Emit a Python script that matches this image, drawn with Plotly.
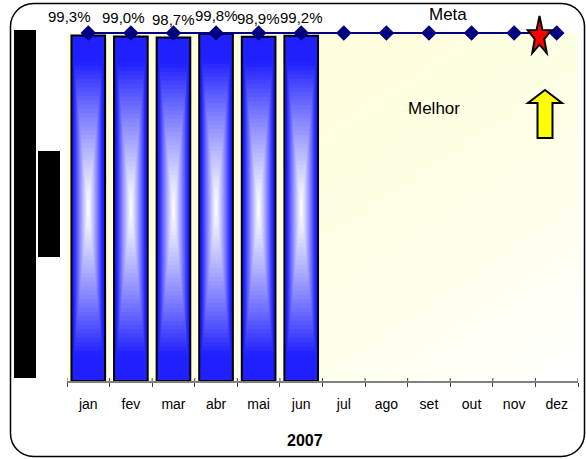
import base64
import math
import struct
import zlib

import plotly.graph_objects as go

# ---- data -------------------------------------------------------------
months = ["jan", "fev", "mar", "abr", "mai", "jun",
          "jul", "ago", "set", "out", "nov", "dez"]
realizado = [99.3, 99.0, 98.7, 99.8, 98.9, 99.2]          # % jan..jun 2007
meta = [100, 100, 100, 100, 100, 100, 100, 100, 100, 100, 100, 100]
year_label = "2007"

# ---- page geometry (pixels) -----------------------------------------
W, H = 586, 459
ML, MR, MT, MB = 67, 8, 10, 78
PW, PH = W - ML - MR, H - MT - MB
Y_TOP_PX = 33                     # pixel row of the 100 % level
PX_PER_UNIT = (H - MB - Y_TOP_PX) / 100.0
Y_MAX = PH / PX_PER_UNIT
X_PX_PER_CAT = PW / 12.0


def paper_x(px):
    return (px - ML) / PW


def paper_y(py):
    return (H - MB - py) / PH


def data_x(px):
    return (px - ML) / X_PX_PER_CAT - 0.5


def data_y(py):
    return (H - MB - py) / PX_PER_UNIT


# ---- diagonal pale-yellow background as a tiny generated PNG ----------
def png_uri(w, h, pixel):
    rows = []
    for j in range(h):
        row = bytearray(b"\x00")
        for i in range(w):
            row.extend(pixel(i / (w - 1), j / (h - 1)))
        rows.append(bytes(row))
    raw = b"".join(rows)

    def chunk(tag, data):
        return (struct.pack(">I", len(data)) + tag + data
                + struct.pack(">I", zlib.crc32(tag + data) & 0xFFFFFFFF))

    png = (b"\x89PNG\r\n\x1a\n"
           + chunk(b"IHDR", struct.pack(">IIBBBBB", w, h, 8, 2, 0, 0, 0))
           + chunk(b"IDAT", zlib.compress(raw))
           + chunk(b"IEND", b""))
    return "data:image/png;base64," + base64.b64encode(png).decode()


def bg_pixel(u, v):
    s = (u + v) / 2.0
    b = int(round(220 + 35 * s ** 2.2))
    return (255, 255, b)


bg_source = png_uri(48, 48, bg_pixel)


# ---- bar shading: concentric rectangles, blue rim -> white core --------
def shade(t):
    f = min(1.0, t / 0.86) ** 1.2
    c = int(round(255 + (32 - 255) * f))
    return f"rgb({c},{c},255)"


BAR_W = 0.79
N_LAYERS = 40
idx = list(range(len(realizado)))

fig = go.Figure()

for k in range(N_LAYERS):
    t = 1.0 - k / N_LAYERS
    fig.add_trace(go.Bar(
        x=idx,
        y=[v * t for v in realizado],
        base=[v * (1 - t) / 2 for v in realizado],
        width=BAR_W * t,
        marker=dict(color=shade(t), line=dict(width=0)),
        showlegend=False, hoverinfo="skip",
    ))

# bar outlines
fig.add_trace(go.Bar(
    x=idx, y=realizado, width=BAR_W,
    marker=dict(color="rgba(0,0,0,0)", line=dict(color="#000000", width=2)),
    showlegend=False, hoverinfo="skip",
))

# target line
fig.add_trace(go.Scatter(
    x=list(range(12)), y=meta, mode="lines+markers",
    line=dict(color="#000080", width=2),
    marker=dict(symbol="diamond", size=12, color="#000080"),
    cliponaxis=False, showlegend=False, hoverinfo="skip",
))

FONT = "Liberation Sans, Arial"

# ---- value labels ------------------------------------------------------
label_xshift = {0: -19, 1: -7}
annotations = []
for i, v in enumerate(realizado):
    annotations.append(dict(
        x=i, y=v, xref="x", yref="y",
        text=f"{v:.1f}%".replace(".", ","),
        showarrow=False, yanchor="bottom", yshift=8,
        xshift=label_xshift.get(i, 0),
        font=dict(family=FONT, size=15, color="#000000"),
    ))

annotations.append(dict(
    x=data_x(448), y=data_y(14), xref="x", yref="y", text="Meta",
    showarrow=False, font=dict(family=FONT, size=17, color="#000000"),
))
annotations.append(dict(
    x=data_x(434), y=data_y(108), xref="x", yref="y", text="Melhor",
    showarrow=False, font=dict(family=FONT, size=17, color="#000000"),
))
annotations.append(dict(
    x=paper_x(305), y=paper_y(440), xref="paper", yref="paper",
    xanchor="center", yanchor="middle", text=f"<b>{year_label}</b>",
    showarrow=False, font=dict(family=FONT, size=16, color="#000000"),
))


# ---- decorative shapes ---------------------------------------------------
def path_from(points):
    return "M" + " L".join(f"{x:.2f},{y:.2f}" for x, y in points) + " Z"


# stretched five-point star (pixel offsets, y up)
star_pts = []
for k in range(10):
    ang = math.pi / 2 + k * math.pi / 5
    r = 1.0 if k % 2 == 0 else 0.40
    star_pts.append((12.4 * r * math.cos(ang), 20.45 * r * math.sin(ang)))

# block arrow pointing up (pixel offsets, y up)
arrow_pts = [(0, 24), (17, 11), (7.5, 11), (7.5, -24),
             (-7.5, -24), (-7.5, 11), (-17, 11)]

shapes = [
    dict(type="path", xref="x", yref="y", xsizemode="pixel", ysizemode="pixel",
         xanchor=data_x(539.5), yanchor=data_y(36.5), path=path_from(star_pts),
         fillcolor="#FF0000", line=dict(color="#000000", width=2), layer="above"),
    dict(type="path", xref="x", yref="y", xsizemode="pixel", ysizemode="pixel",
         xanchor=data_x(545), yanchor=data_y(114), path=path_from(arrow_pts),
         fillcolor="#FFFF00", line=dict(color="#000000", width=2), layer="above"),
    # masked axis labels
    dict(type="rect", xref="paper", yref="paper",
         x0=paper_x(14), x1=paper_x(36), y0=paper_y(378), y1=paper_y(30),
         fillcolor="#000000", line=dict(width=0), layer="above"),
    dict(type="rect", xref="paper", yref="paper",
         x0=paper_x(38), x1=paper_x(60), y0=paper_y(257), y1=paper_y(151),
         fillcolor="#000000", line=dict(width=0), layer="above"),
]

# tick marks crossing the axis line at category boundaries
for i in range(13):
    shapes.append(dict(type="line", xref="x", yref="paper",
                       x0=i - 0.5, x1=i - 0.5, y0=0, y1=3 / PH,
                       line=dict(color="#404040", width=1), layer="above"))

# rounded frame around the whole chart
L_, R_, T_, B_, RAD = 10.5, 584.5, 3.5, 456.5, 23
K = 0.5523 * RAD


def P(px, py):
    return f"{paper_x(px):.5f},{paper_y(py):.5f}"


frame = (f"M{P(L_ + RAD, T_)} L{P(R_ - RAD, T_)} "
         f"C{P(R_ - RAD + K, T_)} {P(R_, T_ + RAD - K)} {P(R_, T_ + RAD)} "
         f"L{P(R_, B_ - RAD)} "
         f"C{P(R_, B_ - RAD + K)} {P(R_ - RAD + K, B_)} {P(R_ - RAD, B_)} "
         f"L{P(L_ + RAD, B_)} "
         f"C{P(L_ + RAD - K, B_)} {P(L_, B_ - RAD + K)} {P(L_, B_ - RAD)} "
         f"L{P(L_, T_ + RAD)} "
         f"C{P(L_, T_ + RAD - K)} {P(L_ + RAD - K, T_)} {P(L_ + RAD, T_)} Z")
shapes.append(dict(type="path", xref="paper", yref="paper", path=frame,
                   line=dict(color="#000000", width=1.5), layer="above"))

fig.update_layout(
    width=W, height=H,
    margin=dict(l=ML, r=MR, t=MT, b=MB, pad=0),
    paper_bgcolor="#FFFFFF",
    plot_bgcolor="rgba(0,0,0,0)",
    barmode="overlay",
    showlegend=False,
    font=dict(family=FONT, color="#000000"),
    annotations=annotations,
    shapes=shapes,
    images=[dict(source=bg_source, xref="x", yref="y", x=-0.5, y=100,
                 sizex=12, sizey=100, xanchor="left", yanchor="top",
                 sizing="stretch", layer="below")],
    xaxis=dict(
        range=[-0.5, 11.5], tickmode="array", tickvals=list(range(12)),
        ticktext=months, ticks="", showgrid=False, zeroline=False,
        showline=True, linecolor="#808080", linewidth=1.5,
        tickfont=dict(family=FONT, size=14, color="#000000"),
        ticklabelstandoff=9,
        minor=dict(tickmode="array", tickvals=[i - 0.5 for i in range(13)],
                   ticks="outside", ticklen=4, tickwidth=1, tickcolor="#404040",
                   showgrid=False),
        fixedrange=True,
    ),
    yaxis=dict(range=[0, Y_MAX], visible=False, fixedrange=True),
)

fig.write_html("out.html")
